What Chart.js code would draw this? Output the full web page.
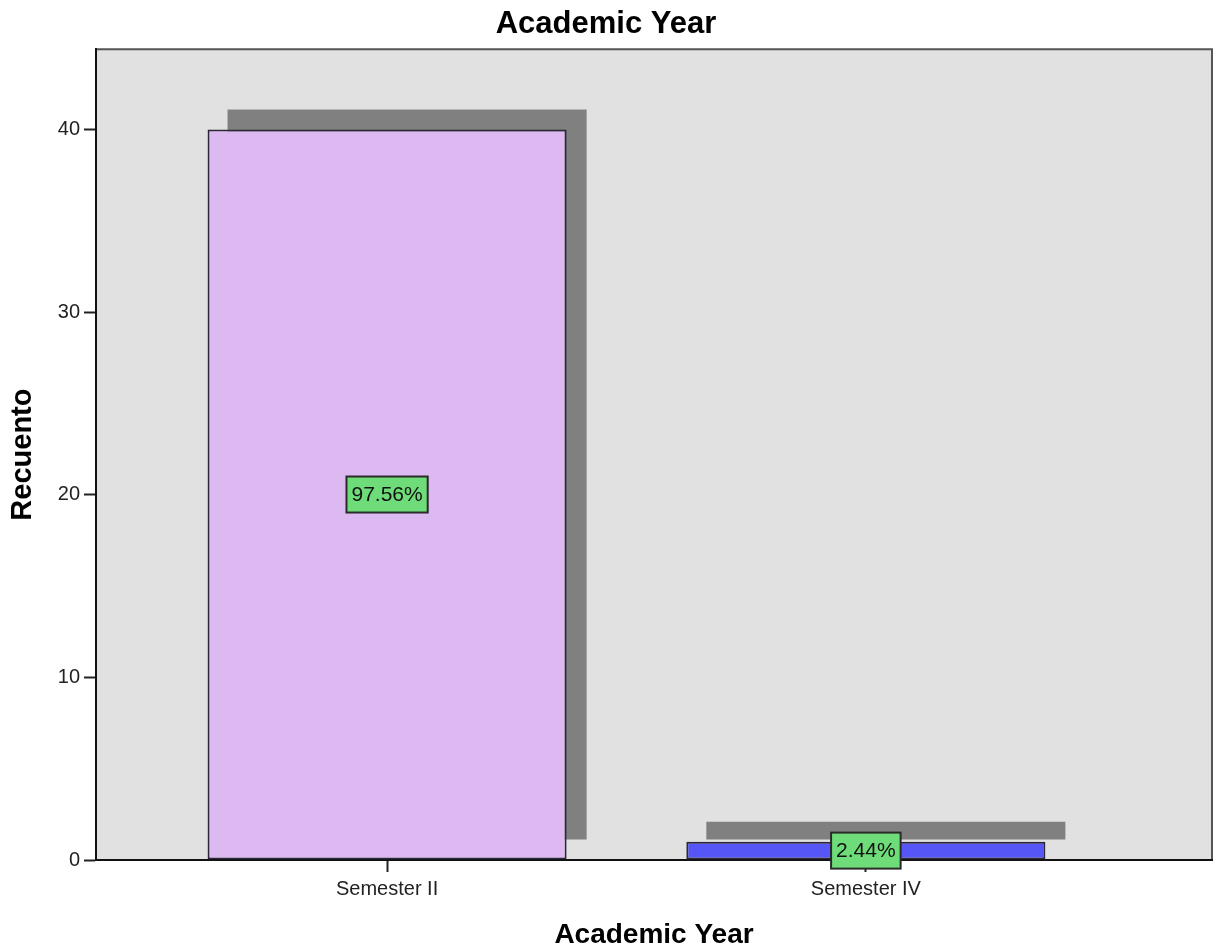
<!DOCTYPE html>
<html>
<head>
<meta charset="utf-8">
<title>Academic Year</title>
<script src="https://cdn.jsdelivr.net/npm/chart.js@4/dist/chart.umd.min.js"></script>
<style>
  html, body { margin: 0; padding: 0; background: #fff; }
  canvas { display: block; }
</style>
</head>
<body>
<canvas id="yearChart" width="1214" height="952"></canvas>
<script>
// Data
const categories = ["Semester II", "Semester IV"];
const positions = [1, 2];
const counts = [40, 1];
const barColors = ["#ddb9f2", "#5656f6"];
const yTicks = [0, 10, 20, 30, 40];

const total = counts.reduce((a, b) => a + b, 0);
const percentLabels = counts.map((c) => ((c / total) * 100).toFixed(2) + "%");

const fontFamily = "'Liberation Sans', Arial, sans-serif";

// Gray plot background, top and right frame lines
const plotFrame = {
  id: "plotFrame",
  beforeDraw(chart) {
    const { ctx, chartArea: a } = chart;
    ctx.save();
    ctx.fillStyle = "#e1e1e1";
    ctx.fillRect(a.left, a.top, a.right - a.left, a.bottom - a.top);
    ctx.strokeStyle = "#555555";
    ctx.lineWidth = 2;
    ctx.beginPath();
    ctx.moveTo(a.left, a.top);
    ctx.lineTo(a.right, a.top);
    ctx.lineTo(a.right, a.bottom);
    ctx.stroke();
    ctx.restore();
  },
};

// Flat gray drop shadow behind each bar
const barShadow = {
  id: "barShadow",
  beforeDatasetsDraw(chart) {
    const { ctx } = chart;
    const meta = chart.getDatasetMeta(0);
    ctx.save();
    ctx.fillStyle = "#808080";
    meta.data.forEach((bar) => {
      const { x, y, base, width } = bar.getProps(["x", "y", "base", "width"], true);
      ctx.fillRect(x - width / 2 + 20, y - 20, width, base - y);
    });
    ctx.restore();
  },
};

// Green percentage boxes in the middle of each bar
const percentBoxes = {
  id: "percentBoxes",
  afterDatasetsDraw(chart) {
    const { ctx } = chart;
    const meta = chart.getDatasetMeta(0);
    ctx.save();
    ctx.font = "21px " + fontFamily;
    ctx.textAlign = "center";
    ctx.textBaseline = "middle";
    meta.data.forEach((bar, i) => {
      const { x, y, base } = bar.getProps(["x", "y", "base"], true);
      const cy = (y + base) / 2;
      const text = percentLabels[i];
      const w = ctx.measureText(text).width + 10;
      const h = 36;
      ctx.fillStyle = "#6edc78";
      ctx.fillRect(x - w / 2, cy - h / 2, w, h);
      ctx.strokeStyle = "#2a2a2a";
      ctx.lineWidth = 2;
      ctx.strokeRect(x - w / 2, cy - h / 2, w, h);
      ctx.fillStyle = "#111";
      ctx.fillText(text, x, cy + 1);
    });
    ctx.restore();
  },
};

const ctx = document.getElementById("yearChart").getContext("2d");

new Chart(ctx, {
  type: "bar",
  data: {
    datasets: [
      {
        label: "Recuento",
        data: positions.map((p, i) => ({ x: p, y: counts[i] })),
        backgroundColor: barColors,
        borderColor: "#2b2638",
        borderWidth: 2,
        borderSkipped: false,
        categoryPercentage: 0.75,
        barPercentage: 1.0,
      },
    ],
  },
  options: {
    responsive: false,
    animation: false,
    layout: { padding: { left: 0, right: 2, top: 0, bottom: 0 } },
    plugins: {
      legend: { display: false },
      tooltip: { enabled: false },
      title: {
        display: true,
        text: "Academic Year",
        color: "#000",
        font: { family: fontFamily, size: 31, weight: "bold" },
        padding: { top: 6, bottom: 6 },
      },
    },
    scales: {
      x: {
        type: "linear",
        offset: false,
        min: 0.392,
        max: 2.723,
        afterBuildTicks: (scale) => {
          scale.ticks = positions.map((p) => ({ value: p }));
        },
        afterFit: (scale) => {
          scale.height = 92;
        },
        ticks: {
          callback: (value) => categories[positions.indexOf(value)],
          color: "#222",
          font: { family: fontFamily, size: 20 },
          padding: 5,
          maxRotation: 0,
        },
        grid: {
          offset: false,
          drawOnChartArea: false,
          drawTicks: true,
          tickLength: 12,
          tickWidth: 2,
          tickColor: "#222",
        },
        border: { display: true, color: "#111", width: 2 },
        title: {
          display: true,
          text: "Academic Year",
          color: "#000",
          font: { family: fontFamily, size: 28, weight: "bold" },
          padding: { top: 0, bottom: 0 },
        },
      },
      y: {
        min: 0,
        max: 44.4,
        afterBuildTicks: (scale) => {
          scale.ticks = yTicks.map((v) => ({ value: v }));
        },
        afterFit: (scale) => {
          scale.width = 96;
        },
        ticks: {
          color: "#222",
          font: { family: fontFamily, size: 20 },
          padding: 4,
        },
        grid: {
          drawOnChartArea: false,
          drawTicks: true,
          tickLength: 12,
          tickWidth: 2,
          tickColor: "#222",
        },
        border: { display: true, color: "#111", width: 2 },
        title: {
          display: true,
          text: "Recuento",
          color: "#000",
          font: { family: fontFamily, size: 29, weight: "bold" },
          padding: { top: 6, bottom: 0 },
        },
      },
    },
  },
  plugins: [plotFrame, barShadow, percentBoxes],
});
</script>
</body>
</html>
